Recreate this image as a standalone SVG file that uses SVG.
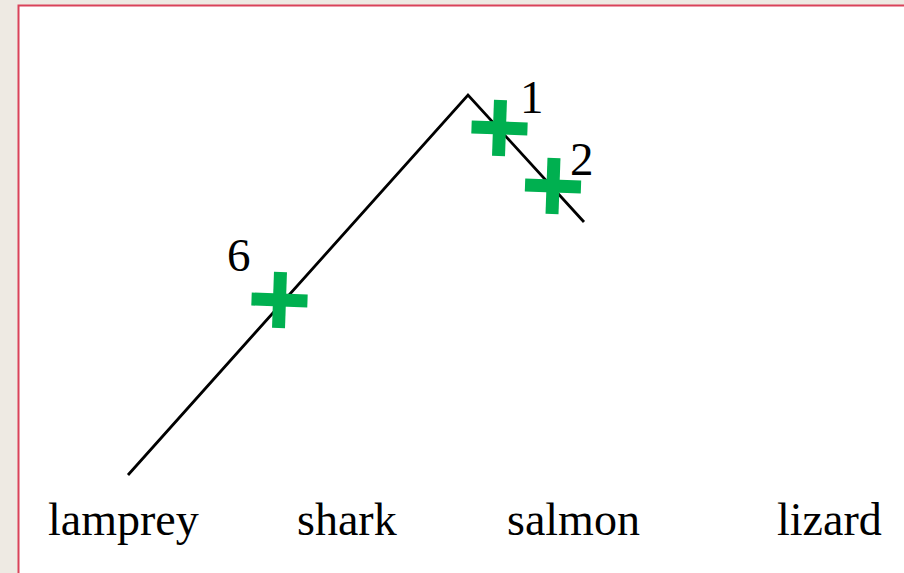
<svg xmlns="http://www.w3.org/2000/svg" width="904" height="573" viewBox="0 0 904 573">
  <style>
    text { font-family: 'Liberation Serif', 'Times New Roman', serif; fill: #000; }
    .lbl { font-size: 46px; }
    .num { font-size: 47px; }
    .branch { stroke: #000; stroke-width: 2.8; fill: none; stroke-linecap: butt; }
    .mark { fill: #00B050; }
  </style>
  <defs>
    <g id="cross">
      <rect class="mark" x="-28" y="-6.5" width="56" height="13"/>
      <rect class="mark" x="-6.5" y="-28" width="13" height="56"/>
    </g>
  </defs>
  <rect x="0" y="0" width="904" height="573" fill="#EEEAE3"/>
  <rect x="18.5" y="5.5" width="900" height="580" fill="#FFFFFF" stroke="#D9435A" stroke-width="2"/>
  <g id="connectors">
    <polyline class="branch" points="128,475 468,95 584,222"/>
  </g>
  <g id="trait-6">
    <use href="#cross" transform="translate(279.5,300) rotate(2)"/>
    <text class="num" x="227" y="271">6</text>
  </g>
  <g id="trait-1">
    <use href="#cross" transform="translate(499.5,128) rotate(2)"/>
    <text class="num" x="520" y="113">1</text>
  </g>
  <g id="trait-2">
    <use href="#cross" transform="translate(553,186) rotate(2)"/>
    <text class="num" x="570" y="175">2</text>
  </g>
  <g id="lamprey"><text class="lbl" x="48" y="535">lamprey</text></g>
  <g id="shark"><text class="lbl" x="297" y="535">shark</text></g>
  <g id="salmon"><text class="lbl" x="507" y="535">salmon</text></g>
  <g id="lizard"><text class="lbl" x="777" y="535">lizard</text></g>
</svg>
